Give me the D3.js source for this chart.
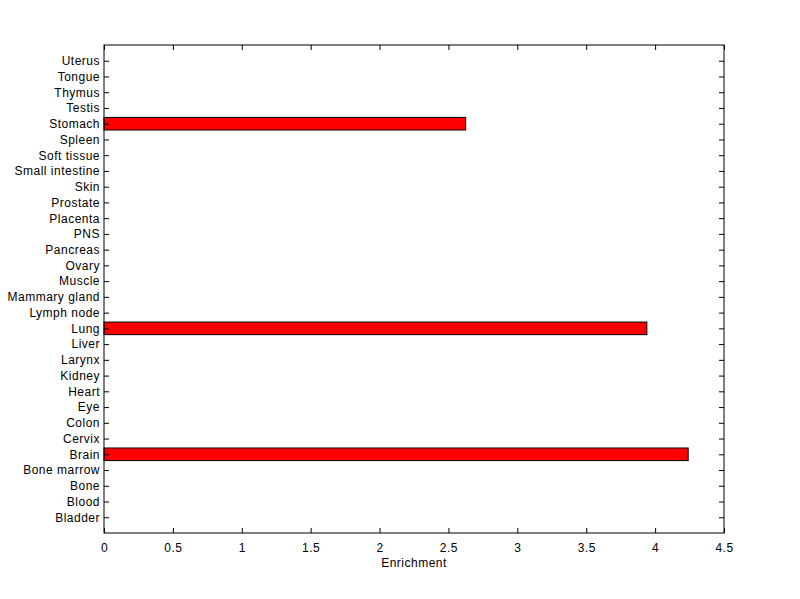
<!DOCTYPE html>
<html>
<head>
<meta charset="utf-8">
<script src="https://cdn.jsdelivr.net/npm/d3@7"></script>
<style>
  body { margin: 0; background: #fff; }
  text { font-family: Arial, "Liberation Sans", sans-serif; letter-spacing: 0.5px; }
</style>
</head>
<body>
<div id="chart"></div>
<script>
// tissues, bottom to top
const tissues = ["Bladder", "Blood", "Bone", "Bone marrow", "Brain", "Cervix", "Colon", "Eye",
    "Heart", "Kidney", "Larynx", "Liver", "Lung", "Lymph node", "Mammary gland", "Muscle",
    "Ovary", "Pancreas", "PNS", "Placenta", "Prostate", "Skin", "Small intestine",
    "Soft tissue", "Spleen", "Stomach", "Testis", "Thymus", "Tongue", "Uterus"];
const enrichment = [0, 0, 0, 0, 4.24, 0, 0, 0, 0, 0, 0, 0, 3.94, 0, 0, 0,
    0, 0, 0, 0, 0, 0, 0, 0, 0, 2.625, 0, 0, 0, 0];
const xTicks = [0, 0.5, 1, 1.5, 2, 2.5, 3, 3.5, 4, 4.5];

const width = 800, height = 599;
const margin = { top: 45, right: 76, bottom: 66, left: 104 };

const svg = d3.select("#chart").append("svg")
    .attr("width", width)
    .attr("height", height);

const x = d3.scaleLinear()
    .domain([0, 4.5])
    .range([margin.left, width - margin.right]);

const y = d3.scaleLinear()
    .domain([0, tissues.length + 1])
    .range([height - margin.bottom, margin.top]);

const band = y(0) - y(1);
const barH = band * 0.8;

const data = tissues.map((t, i) => ({ name: t, pos: i + 1, value: enrichment[i] }));

// bars
svg.selectAll("rect.bar")
    .data(data.filter(d => d.value > 0))
    .enter()
    .append("rect")
    .attr("class", "bar")
    .attr("x", x(0))
    .attr("y", d => y(d.pos) - barH / 2)
    .attr("width", d => x(d.value) - x(0))
    .attr("height", barH)
    .attr("fill", "#ff0000")
    .attr("stroke", "#000")
    .attr("stroke-width", 1);

// box
svg.append("rect")
    .attr("x", x(0))
    .attr("y", y(tissues.length + 1))
    .attr("width", x(4.5) - x(0))
    .attr("height", y(0) - y(tissues.length + 1))
    .attr("fill", "none")
    .attr("stroke", "#000")
    .attr("stroke-width", 1);

const tickLen = 5;

// bottom axis
svg.append("g")
    .attr("transform", `translate(0, ${y(0)})`)
    .call(d3.axisBottom(x).tickValues(xTicks).tickSize(-tickLen).tickPadding(10)
        .tickFormat(d3.format("")).tickSizeOuter(0))
    .call(g => g.select(".domain").remove())
    .attr("font-size", "12px");

// top axis ticks
svg.append("g")
    .attr("transform", `translate(0, ${y(tissues.length + 1)})`)
    .call(d3.axisTop(x).tickValues(xTicks).tickSize(-tickLen).tickFormat("").tickSizeOuter(0))
    .call(g => g.select(".domain").remove());

// left axis
svg.append("g")
    .attr("transform", `translate(${x(0)}, 0)`)
    .call(d3.axisLeft(y).tickValues(data.map(d => d.pos)).tickSize(-tickLen).tickPadding(4)
        .tickFormat(p => tissues[p - 1]).tickSizeOuter(0))
    .call(g => g.select(".domain").remove())
    .attr("font-size", "12px");

// right axis ticks
svg.append("g")
    .attr("transform", `translate(${x(4.5)}, 0)`)
    .call(d3.axisRight(y).tickValues(data.map(d => d.pos)).tickSize(-tickLen).tickFormat("").tickSizeOuter(0))
    .call(g => g.select(".domain").remove());

svg.selectAll(".tick text").attr("fill", "#000");
svg.selectAll(".tick line").attr("stroke", "#000");

// x label
svg.append("text")
    .attr("x", (x(0) + x(4.5)) / 2)
    .attr("y", y(0) + 34)
    .attr("text-anchor", "middle")
    .attr("font-size", "12px")
    .attr("fill", "#000")
    .text("Enrichment");
</script>
</body>
</html>
